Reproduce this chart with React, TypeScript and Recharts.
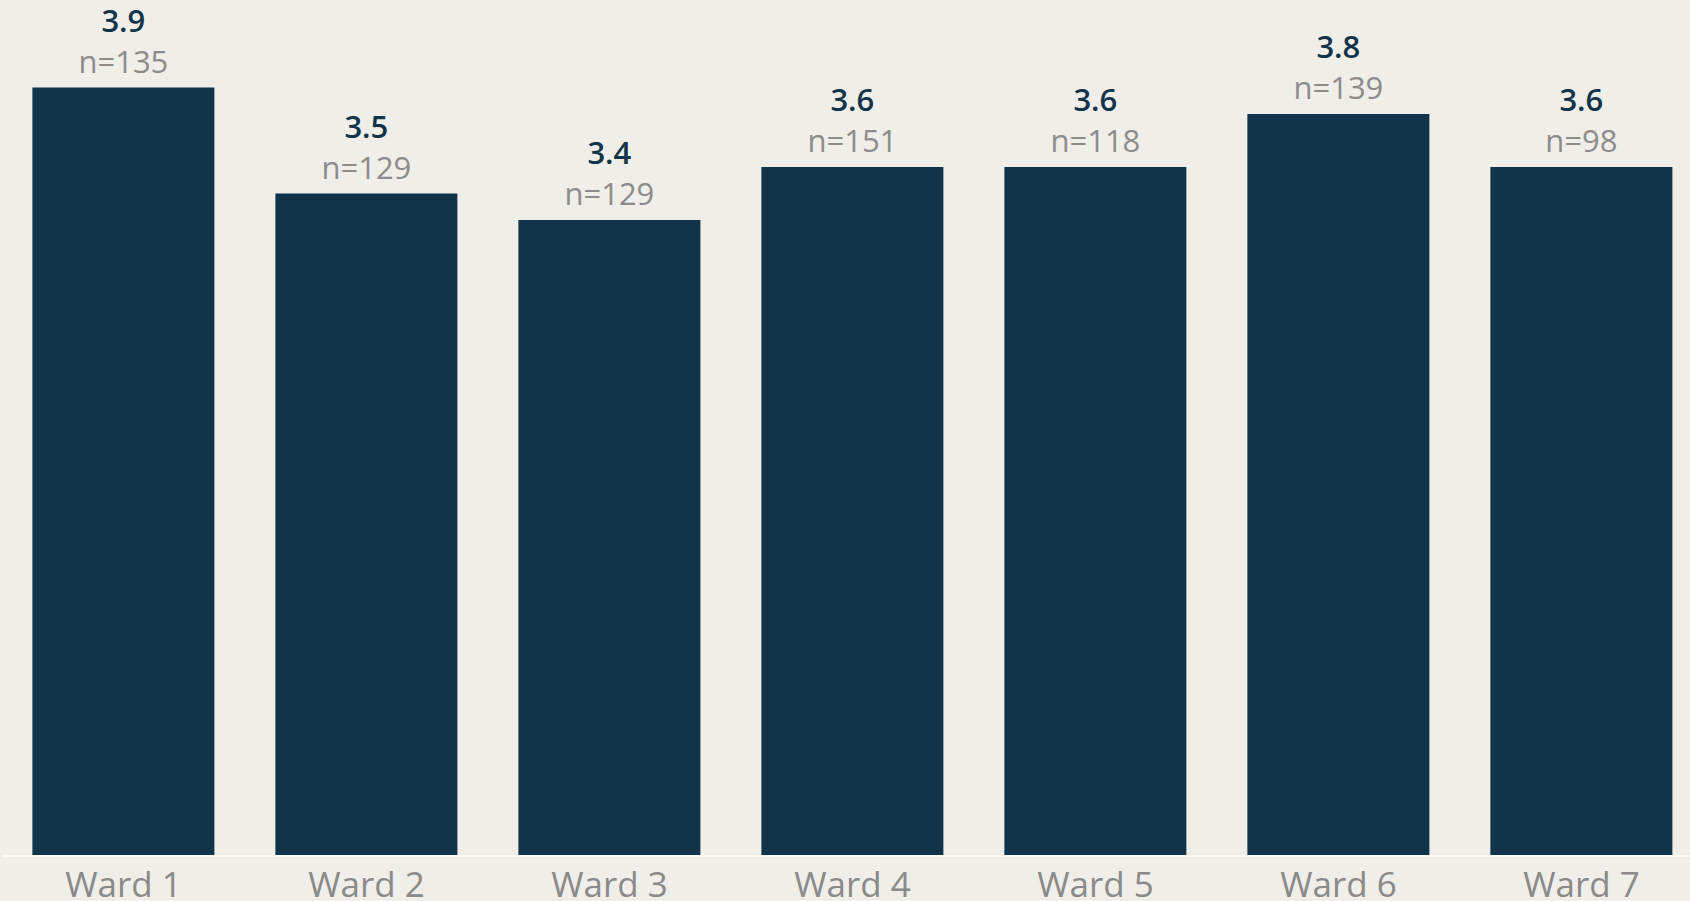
import { BarChart, Bar, XAxis, YAxis, LabelList } from 'recharts';

const wards = ['Ward 1', 'Ward 2', 'Ward 3', 'Ward 4', 'Ward 5', 'Ward 6', 'Ward 7'];
const scores = [3.9, 3.5, 3.4, 3.6, 3.6, 3.8, 3.6];
const counts = [135, 129, 129, 151, 118, 139, 98];
const bandTicks = [0, 1, 2, 3, 4, 5, 6, 7];

const data = wards.map((name, i) => ({ name, score: scores[i], n: counts[i] }));

const FONT = '"Open Sans", sans-serif';

const TopLabel = (props: any) => {
  const { x, y, width, index } = props;
  const cx = x + width / 2;
  return (
    <g>
      <text x={cx} y={y - 56} textAnchor="middle" fill="#12344a" fontSize={31} fontWeight={600} fontFamily={FONT}>
        {scores[index].toFixed(1)}
      </text>
      <text x={cx} y={y - 15} textAnchor="middle" fill="#8c8c8a" fontSize={31} fontFamily={FONT}>
        n={counts[index]}
      </text>
    </g>
  );
};

export default function App() {
  return (
    <div style={{
      position: 'absolute', top: 0, left: 0, width: 1690, height: 901,
      overflow: 'hidden', background: '#efeee8',
    }}>
      <BarChart width={1705} height={901} data={data}
        margin={{ top: 61, right: 2, left: 2, bottom: 0 }} barCategoryGap="12.5%">
        <XAxis xAxisId="a" type="number" domain={[0, 7]} ticks={bandTicks}
          axisLine={{ stroke: '#fbfbf8', strokeWidth: 2 }} tickLine={{ stroke: '#fbfbf8', strokeWidth: 2 }}
          tickSize={6} tick={false} height={6} />
        <XAxis xAxisId="b" dataKey="name" axisLine={false} tickLine={false} tickSize={0}
          tickMargin={10} height={39} interval={0}
          tick={{ fill: '#8a8a88', fontSize: 35, fontFamily: FONT }} />
        <YAxis hide domain={[1, 4]} allowDataOverflow />
        <Bar dataKey="score" xAxisId="b" fill="#11344a" isAnimationActive={false}>
          <LabelList dataKey="score" content={TopLabel} />
        </Bar>
      </BarChart>
    </div>
  );
}
